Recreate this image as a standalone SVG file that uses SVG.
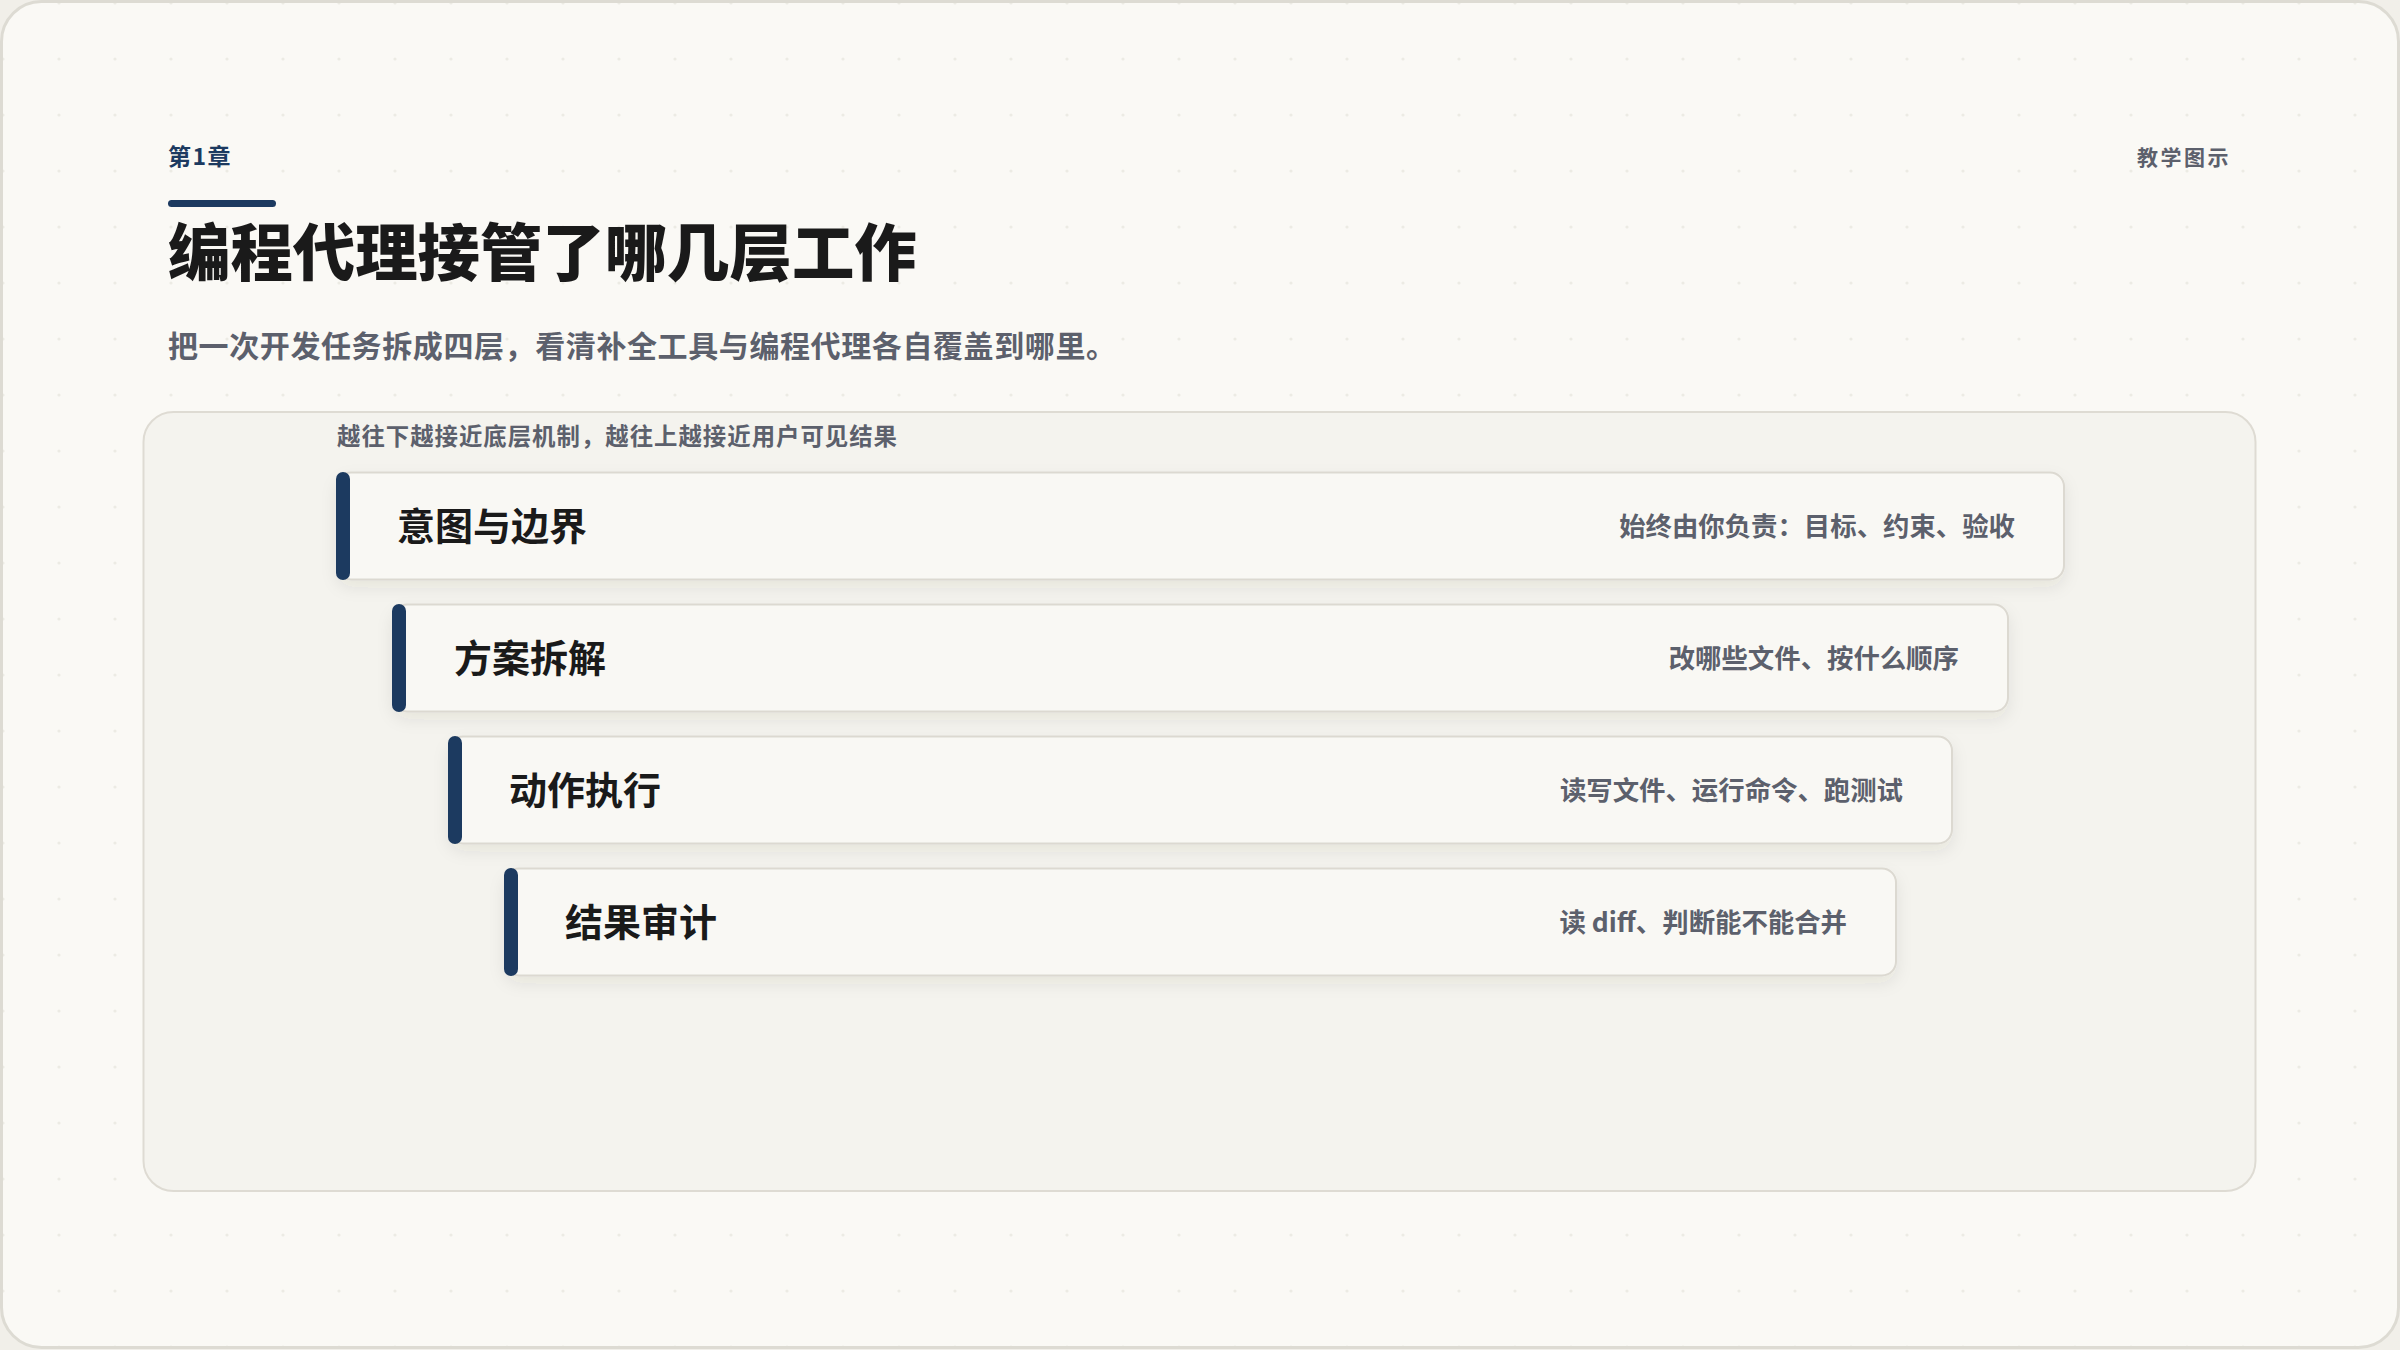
<svg xmlns="http://www.w3.org/2000/svg" width="2400" height="1350" viewBox="0 0 2400 1350">
  <defs>
    <pattern id="dots" x="-25" y="-25" width="56" height="56" patternUnits="userSpaceOnUse">
      <circle cx="28" cy="28" r="1.6" fill="#ecebe4"/>
    </pattern>
    <filter id="shadow" x="-5%" y="-20%" width="110%" height="160%">
      <feDropShadow dx="0" dy="7" stdDeviation="8" flood-color="#3a3526" flood-opacity="0.08"/>
    </filter>
    <style>
      .cjk { font-family: "Noto Sans CJK SC", "Noto Sans", "Liberation Sans", sans-serif; }
      .card { fill: #f9f8f4; stroke: #dcd9d1; stroke-width: 2; }
      .bar { fill: #1c3a60; }
      .label { font-size: 38px; font-weight: 700; fill: #1a1a1a; }
      .note { font-size: 26.4px; font-weight: 700; fill: #5c606c; text-anchor: end; }
    </style>
  </defs>

  <!-- background frame -->
  <rect x="0" y="0" width="2400" height="1350" fill="#f1efe9"/>
  <rect x="1.5" y="1.5" width="2397" height="1346" rx="40" fill="#faf9f5" stroke="#dddbd3" stroke-width="3"/>
  <rect x="3" y="3" width="2394" height="1343" rx="39" fill="url(#dots)"/>

  <!-- header -->
  <g id="header">
    <text class="cjk" x="168" y="165" font-size="23" font-weight="700" fill="#1c3a60" letter-spacing="1.5">第1章</text>
    <rect x="168" y="200" width="108" height="7" rx="3.5" fill="#1c3a60"/>
    <text class="cjk" x="168" y="276" font-size="62.4" font-weight="900" fill="#1a1a1a">编程代理接管了哪几层工作</text>
    <text class="cjk" x="168" y="357" font-size="30" font-weight="700" fill="#5c606c" letter-spacing="0.6">把一次开发任务拆成四层，看清补全工具与编程代理各自覆盖到哪里。</text>
    <text class="cjk" x="2231" y="165" font-size="21" font-weight="700" fill="#5c606c" letter-spacing="2.5" text-anchor="end">教学图示</text>
  </g>

  <!-- panel -->
  <g id="panel">
    <rect x="143.5" y="412" width="2112" height="779" rx="30" fill="#f4f3ee" stroke="#dedbd3" stroke-width="2"/>
    <text class="cjk" x="337" y="445" font-size="23.4" font-weight="700" fill="#5c606c" letter-spacing="1">越往下越接近底层机制，越往上越接近用户可见结果</text>
  </g>

  <!-- layers -->
  <g id="layer-1">
    <rect class="card" x="337" y="472.5" width="1727" height="107" rx="14" filter="url(#shadow)"/>
    <rect class="bar" x="336" y="472" width="14" height="108" rx="7"/>
    <text class="cjk label" x="397" y="540">意图与边界</text>
    <text class="cjk note" x="2015" y="536">始终由你负责：目标、约束、验收</text>
  </g>

  <g id="layer-2">
    <rect class="card" x="393" y="604.5" width="1615" height="107" rx="14" filter="url(#shadow)"/>
    <rect class="bar" x="392" y="604" width="14" height="108" rx="7"/>
    <text class="cjk label" x="454" y="672">方案拆解</text>
    <text class="cjk note" x="1959" y="668">改哪些文件、按什么顺序</text>
  </g>

  <g id="layer-3">
    <rect class="card" x="449" y="736.5" width="1503" height="107" rx="14" filter="url(#shadow)"/>
    <rect class="bar" x="448" y="736" width="14" height="108" rx="7"/>
    <text class="cjk label" x="509" y="804">动作执行</text>
    <text class="cjk note" x="1903" y="800">读写文件、运行命令、跑测试</text>
  </g>

  <g id="layer-4">
    <rect class="card" x="505" y="868.5" width="1391" height="107" rx="14" filter="url(#shadow)"/>
    <rect class="bar" x="504" y="868" width="14" height="108" rx="7"/>
    <text class="cjk label" x="565" y="936">结果审计</text>
    <text class="cjk note" x="1847" y="932">读 diff、判断能不能合并</text>
  </g>

  <g id="connectors"/>
</svg>
